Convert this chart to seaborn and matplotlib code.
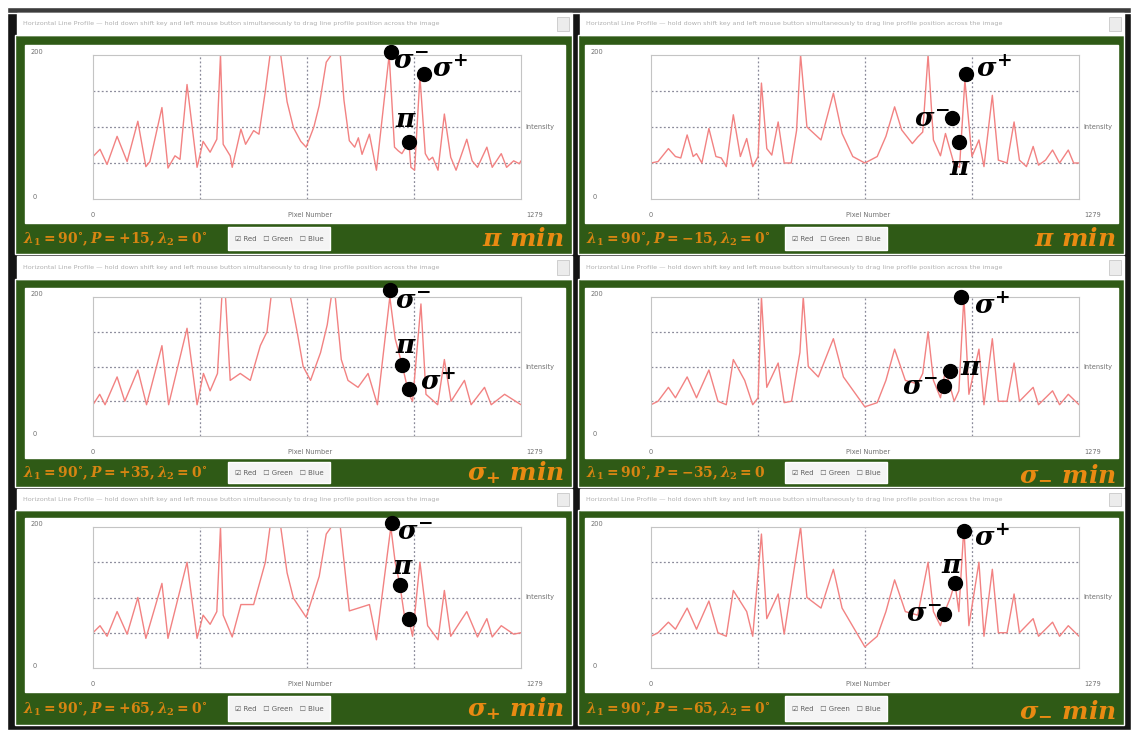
import matplotlib
matplotlib.use("Agg")
import matplotlib.pyplot as plt
from matplotlib.patches import Rectangle
import seaborn as sns
import pandas as pd

sns.set_style("white")
plt.rcParams["font.family"] = ["DejaVu Sans"]
plt.rcParams["mathtext.fontset"] = "custom"
plt.rcParams["mathtext.it"] = "DejaVu Serif:italic:bold"
plt.rcParams["mathtext.rm"] = "DejaVu Serif:bold"
plt.rcParams["mathtext.bf"] = "DejaVu Serif:bold"

# ---- line profiles (pixel number, red intensity) ----
pix_p15 = [0, 21, 42, 72, 102, 134, 158, 170, 206, 224, 245, 260, 281, 311, 329, 350, 370,
           381, 389, 410, 416, 442, 456, 480, 496, 515, 529, 561, 580, 599, 621, 637,
           660, 676, 697, 712, 739, 750, 766, 782, 793, 804, 826, 847, 885, 901, 912,
           923, 944, 950, 961, 977, 993, 1004, 1015, 1031, 1050, 1069, 1085, 1117, 1133,
           1149, 1177, 1193, 1220, 1236, 1257, 1274, 1279]
int_p15 = [59, 69, 48, 87, 52, 108, 45, 52, 127, 43, 60, 55, 159, 44, 80, 65, 83,
           200, 76, 60, 44, 97, 76, 95, 90, 150, 200, 200, 135, 99, 80, 72,
           100, 130, 190, 200, 200, 137, 81, 72, 85, 62, 90, 40, 200, 72, 67,
           63, 79, 44, 40, 170, 63, 54, 58, 40, 118, 58, 40, 83, 53,
           44, 72, 44, 63, 44, 53, 49, 53]

pix_m15 = [0, 21, 52, 73, 89, 108, 126, 136, 152, 173, 194, 210, 225, 246, 267, 286,
           304, 320, 330, 346, 361, 380, 398, 419, 435, 447, 466, 487, 508, 545, 571,
           603, 639, 676, 702, 728, 749, 781, 797, 812, 828, 844, 865, 880, 906, 922,
           938, 959, 980, 995, 1020, 1038, 1064, 1085, 1101, 1122, 1142, 1158, 1179,
           1200, 1221, 1247, 1263, 1279]
int_m15 = [50, 52, 70, 59, 57, 89, 59, 63, 50, 98, 59, 57, 45, 117, 59, 84,
           45, 59, 161, 70, 61, 107, 50, 50, 95, 200, 100, 91, 82, 147, 91,
           59, 50, 59, 87, 128, 96, 77, 86, 93, 200, 82, 60, 91, 48, 44,
           165, 59, 82, 45, 144, 54, 50, 107, 54, 45, 73, 47, 54,
           68, 50, 68, 50, 50]

pix_p35 = [0, 20, 36, 72, 95, 134, 160, 206, 226, 281, 311, 330, 350, 372, 385, 396,
           410, 440, 470, 500, 520, 532, 590, 610, 628, 650, 680, 700, 712, 724, 742,
           762, 792, 822, 850, 887, 903, 925, 944, 955, 980, 995, 1030, 1050, 1070,
           1110, 1130, 1170, 1190, 1230, 1279]
int_p35 = [45, 60, 45, 85, 50, 95, 45, 130, 45, 155, 45, 90, 65, 90, 200, 200,
           80, 90, 80, 130, 150, 200, 200, 150, 100, 80, 120, 160, 200, 200, 110,
           80, 70, 90, 45, 200, 140, 100, 60, 50, 190, 60, 45, 110, 50,
           80, 45, 70, 45, 60, 45]

pix_m35 = [0, 21, 52, 73, 108, 136, 173, 200, 225, 246, 280, 304, 320, 330, 346, 380,
           398, 420, 445, 455, 470, 500, 545, 575, 639, 676, 702, 728, 760, 797,
           812, 828, 844, 865, 880, 906, 920, 935, 950, 980, 995, 1020, 1038, 1064,
           1085, 1101, 1142, 1158, 1200, 1221, 1247, 1279]
int_m35 = [45, 50, 70, 55, 85, 55, 95, 50, 45, 110, 80, 45, 55, 200, 70, 105,
           48, 50, 120, 200, 100, 85, 140, 85, 42, 48, 80, 125, 80, 75,
           90, 150, 80, 55, 95, 50, 65, 200, 60, 125, 45, 140, 50, 50,
           105, 50, 70, 45, 65, 45, 60, 45]

pix_p65 = [0, 21, 42, 72, 102, 134, 158, 206, 224, 281, 311, 329, 350, 370, 381, 389,
           416, 442, 480, 515, 529, 561, 580, 599, 637, 676, 697, 712, 739, 766, 793,
           826, 847, 890, 903, 917, 935, 944, 955, 977, 1000, 1031, 1050, 1069, 1117,
           1149, 1177, 1193, 1220, 1257, 1279]
int_p65 = [50, 60, 45, 80, 48, 100, 42, 120, 42, 150, 42, 75, 62, 80, 200, 75,
           44, 90, 90, 150, 200, 200, 135, 99, 72, 130, 190, 200, 200, 81, 85,
           90, 40, 200, 150, 118, 60, 69, 45, 150, 60, 40, 110, 45, 80,
           44, 70, 44, 60, 48, 50]

pix_m65 = [0, 21, 52, 73, 108, 136, 173, 200, 225, 246, 286, 304, 330, 346, 380, 398,
           447, 466, 508, 545, 571, 639, 676, 702, 728, 760, 797, 828, 844, 865,
           875, 895, 908, 920, 935, 950, 980, 995, 1020, 1038, 1064, 1085, 1101, 1142,
           1158, 1200, 1221, 1247, 1279]
int_m65 = [45, 50, 65, 55, 85, 55, 95, 50, 45, 110, 80, 45, 190, 70, 105, 48,
           200, 100, 85, 140, 85, 30, 45, 80, 125, 80, 75, 150, 80, 60,
           77, 100, 121, 80, 200, 60, 150, 45, 140, 50, 50, 105, 50, 70,
           45, 65, 45, 60, 45]

# ---- marked Zeeman components (pixel, intensity, label, label offset px) ----
mark_p15 = dict(pix=[890, 989, 944], inten=[204, 174, 79],
                labels=[r"$\sigma^{-}$", r"$\sigma^{+}$", r"$\pi$"],
                offs=[(20, -10), (26, 4), (-3, 22)])
mark_m15 = dict(pix=[941, 899, 920], inten=[174, 112, 79],
                labels=[r"$\sigma^{+}$", r"$\sigma^{-}$", r"$\pi$"],
                offs=[(28, 4), (-20, -2), (1, -26)])
mark_p35 = dict(pix=[887, 923, 944], inten=[210, 102, 68],
                labels=[r"$\sigma^{-}$", r"$\pi$", r"$\sigma^{+}$"],
                offs=[(23, -12), (4, 19), (29, 6)])
mark_m35 = dict(pix=[926, 893, 875], inten=[200, 94, 72],
                labels=[r"$\sigma^{+}$", r"$\pi$", r"$\sigma^{-}$"],
                offs=[(31, -10), (21, 3), (-24, -2)])
mark_p65 = dict(pix=[893, 917, 944], inten=[206, 118, 69],
                labels=[r"$\sigma^{-}$", r"$\pi$", ""],
                offs=[(23, -10), (3, 18), (0, 0)])
mark_m65 = dict(pix=[935, 908, 875], inten=[194, 121, 77],
                labels=[r"$\sigma^{+}$", r"$\pi$", r"$\sigma^{-}$"],
                offs=[(28, -8), (-3, 17), (-20, -1)])

settings = [r"$\lambda_1 = 90^{\circ}, P = +15, \lambda_2 = 0^{\circ}$",
            r"$\lambda_1 = 90^{\circ}, P = -15, \lambda_2 = 0^{\circ}$",
            r"$\lambda_1 = 90^{\circ}, P = +35, \lambda_2 = 0^{\circ}$",
            r"$\lambda_1 = 90^{\circ}, P = -35, \lambda_2 = 0$",
            r"$\lambda_1 = 90^{\circ}, P = +65, \lambda_2 = 0^{\circ}$",
            r"$\lambda_1 = 90^{\circ}, P = -65, \lambda_2 = 0^{\circ}$"]
minima = [r"$\pi\ min$", r"$\pi\ min$", r"$\sigma_{+}\ min$",
          r"$\sigma_{-}\ min$", r"$\sigma_{+}\ min$", r"$\sigma_{-}\ min$"]

profiles = [(pix_p15, int_p15, mark_p15), (pix_m15, int_m15, mark_m15),
            (pix_p35, int_p35, mark_p35), (pix_m35, int_m35, mark_m35),
            (pix_p65, int_p65, mark_p65), (pix_m65, int_m65, mark_m65)]

title_txt = ("Horizontal Line Profile \u2014 hold down shift key and left mouse button "
             "simultaneously to drag line profile position across the image")

# ---- page geometry in pixels ----
W, H = 1131, 730
GREEN = "#2f5a16"
ORANGE = "#e98a12"

fig = plt.figure(figsize=(W / 100, H / 100), dpi=100)
fig.patch.set_facecolor("white")


def rect(x0, y0, x1, y1, color, z=0, **kw):
    fig.add_artist(Rectangle((x0 / W, 1 - y1 / H), (x1 - x0) / W, (y1 - y0) / H,
                             transform=fig.transFigure, facecolor=color, zorder=z, **kw))


def ftext(x, y, s, **kw):
    fig.text(x / W, 1 - y / H, s, **kw)


# window frame
rect(7, 7, W, H, "#141414", z=0)
rect(7, 7, W, 13, "#3c3c3c", z=0.1)

cols = [dict(gx0=15, gx1=572, wx0=25, wx1=565, ax0=93, ax1=521, chk=228),
        dict(gx0=578, gx1=1124, wx0=585, wx1=1118, ax0=651, ax1=1079, chk=785)]
rows = [dict(t0=13, t1=35, w0=45, w1=223, b1=254, a0=55, a1=199),
        dict(t0=256, t1=279, w0=288, w1=458, b1=487, a0=297, a1=436),
        dict(t0=489, t1=510, w0=518, w1=692, b1=725, a0=527, a1=668)]

for i, (pix, inten, mk) in enumerate(profiles):
    r = rows[i // 2]
    c = cols[i % 2]
    # green panel, title bar and white plot area
    rect(c["gx0"], r["t1"], c["gx1"], r["b1"], GREEN, z=1)
    rect(c["gx0"] + 2, r["t0"], c["gx1"], r["t1"], "white", z=1)
    rect(c["gx1"] - 15, r["t0"] + 4, c["gx1"] - 3, r["t1"] - 4, "#ececec", z=1.1,
         edgecolor="#c8c8c8", linewidth=0.6)
    ftext(c["gx0"] + 8, (r["t0"] + r["t1"]) / 2, title_txt, fontsize=4.6,
          color="#b0b0b0", va="center", ha="left", zorder=2)
    rect(c["wx0"], r["w0"], c["wx1"], r["w1"], "white", z=1)

    # checkbox strip
    rect(c["chk"], r["w1"] + 4, c["chk"] + 102, r["b1"] - 4, "#f4f4f4", z=1.1)
    ftext(c["chk"] + 51, (r["w1"] + r["b1"]) / 2, "\u2611 Red   \u2610 Green   \u2610 Blue",
          fontsize=5, color="#606060", ha="center", va="center", zorder=2)

    # orange captions
    ftext(c["gx0"] + 8, (r["w1"] + r["b1"]) / 2 + 1, settings[i], fontsize=10,
          color=ORANGE, ha="left", va="center", zorder=2, alpha=0.9)
    ftext(c["gx1"] - 8, (r["w1"] + r["b1"]) / 2, minima[i], fontsize=18,
          color=ORANGE, ha="right", va="center", zorder=2)

    # axis annotations of the profile widget
    ftext(c["wx0"] + 12, r["a0"] - 3, "200", fontsize=4.8, color="#707070",
          ha="center", va="center", zorder=2)
    ftext(c["wx0"] + 10, r["a1"] - 2, "0", fontsize=4.8, color="#707070",
          ha="center", va="center", zorder=2)
    ftext(c["ax0"], r["a1"] + 16, "0", fontsize=4.8, color="#707070",
          ha="center", va="center", zorder=2)
    ftext((c["ax0"] + c["ax1"]) / 2 + 3, r["a1"] + 16, "Pixel Number", fontsize=4.8,
          color="#707070", ha="center", va="center", zorder=2)
    ftext(c["ax1"] + 14, r["a1"] + 16, "1279", fontsize=4.8, color="#707070",
          ha="center", va="center", zorder=2)
    ftext(c["ax1"] + 19, (r["a0"] + r["a1"]) / 2, "Intensity", fontsize=4.8,
          color="#707070", ha="center", va="center", zorder=2)

    ax = fig.add_axes([c["ax0"] / W, 1 - r["a1"] / H, (c["ax1"] - c["ax0"]) / W,
                       (r["a1"] - r["a0"]) / H])
    ax.set_zorder(3)
    ax.set_facecolor("white")
    df = pd.DataFrame({"pixel": pix, "intensity": inten})
    sns.lineplot(data=df, x="pixel", y="intensity", ax=ax, color="#f28282",
                 linewidth=1.0, sort=False, estimator=None)
    ax.set_xlim(0, 1279)
    ax.set_ylim(0, 200)
    for gx in [1279 * k / 4 for k in (1, 2, 3)]:
        ax.axvline(gx, color="#8a8a9a", lw=0.9, ls=(0, (1.5, 1.8)), zorder=0)
    for gy in (50, 100, 150):
        ax.axhline(gy, color="#8a8a9a", lw=0.9, ls=(0, (1.5, 1.8)), zorder=0)
    ax.set_xticks([])
    ax.set_yticks([])
    ax.set_xlabel("")
    ax.set_ylabel("")
    for sp in ax.spines.values():
        sp.set_color("#c4c4c4")
        sp.set_linewidth(0.8)

    ax.plot(mk["pix"], mk["inten"], "o", color="black", ms=10, clip_on=False, zorder=6)
    for px, iv, lab, off in zip(mk["pix"], mk["inten"], mk["labels"], mk["offs"]):
        if lab:
            ax.annotate(lab, (px, iv), xytext=off, textcoords="offset pixels",
                        fontsize=19, color="black", ha="center", va="center",
                        annotation_clip=False, zorder=7)

fig.savefig("out.png", dpi=100, facecolor=fig.get_facecolor())
